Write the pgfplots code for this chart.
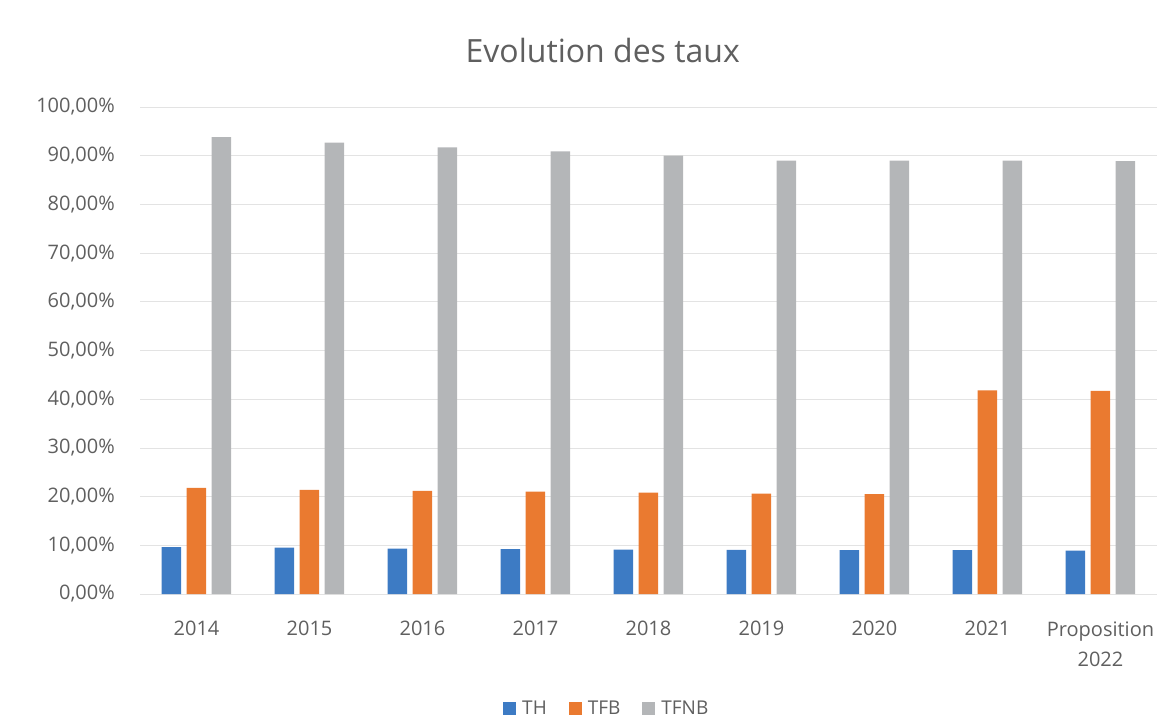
\documentclass[border=0pt]{standalone}
\usepackage{pgfplots}
\pgfplotsset{compat=1.18}
\usepackage{fontspec}
\setmainfont{Open Sans}
\definecolor{cblue}{RGB}{61,123,196}
\definecolor{corange}{RGB}{234,122,48}
\definecolor{cgray}{RGB}{180,182,184}
\definecolor{ctext}{RGB}{95,95,95}
\begin{document}
\begin{tikzpicture}
\useasboundingbox (-140bp,-125bp) rectangle (1036bp,594bp);
\begin{axis}[
  at={(0,0)}, anchor=south west,
  scale only axis, width=1017bp, height=487bp,
  xmin=-0.5, xmax=8.5, ymin=0, ymax=100,
  ybar=5.5bp, bar width=19.5bp,
  axis line style={draw=none}, tick style={draw=none},
  ymajorgrids, grid style={draw=gray!22, line width=0.8bp},
  xtick={0,...,8},
  xticklabels={2014,2015,2016,2017,2018,2019,2020,2021,{Proposition\\2022}},
  xticklabel style={align=center, anchor=north, inner sep=0pt, yshift=-23bp,
    font=\fontsize{20bp}{30bp}\selectfont, text=ctext},
  ytick={0,10,...,100},
  yticklabels={{0,00\%},{10,00\%},{20,00\%},{30,00\%},{40,00\%},{50,00\%},{60,00\%},{70,00\%},{80,00\%},{90,00\%},{100,00\%}},
  yticklabel style={anchor=east, inner sep=0pt, xshift=-25bp, font=\fontsize{20bp}{24bp}\selectfont, text=ctext},
  title={Evolution des taux},
  title style={at={(rel axis cs:0.455,1)}, anchor=center, yshift=51bp, font=\fontsize{32bp}{38bp}\selectfont, text=ctext},
  legend style={at={(rel axis cs:0.459,-0.236)}, anchor=center, draw=none, fill=none, legend columns=-1,
    font=\fontsize{19bp}{23bp}\selectfont, text=ctext,
    /tikz/every even column/.append style={column sep=20bp}},
  legend image code/.code={\fill[#1] (0bp,-6.5bp) rectangle (13bp,6.5bp); \path (17bp,0bp);},
]
\addplot[fill=cblue, draw=none] coordinates {(0,9.6) (1,9.5) (2,9.3) (3,9.2) (4,9.1) (5,9.05) (6,9.0) (7,9.0) (8,8.9)};
\addplot[fill=corange, draw=none] coordinates {(0,21.8) (1,21.4) (2,21.2) (3,21.0) (4,20.8) (5,20.6) (6,20.5) (7,41.8) (8,41.7)};
\addplot[fill=cgray, draw=none] coordinates {(0,93.8) (1,92.7) (2,91.7) (3,90.9) (4,90.0) (5,89.0) (6,89.0) (7,89.0) (8,88.9)};
\legend{TH,TFB,TFNB}
\end{axis}
\end{tikzpicture}
\end{document}
